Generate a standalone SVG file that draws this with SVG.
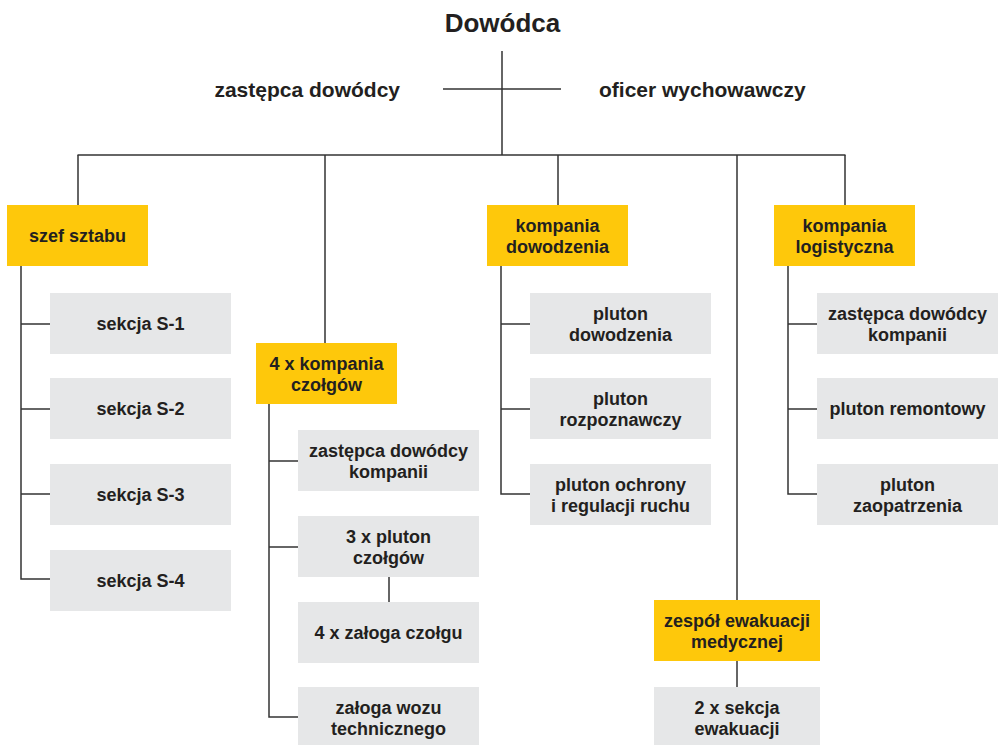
<svg xmlns="http://www.w3.org/2000/svg" width="998" height="745" viewBox="0 0 998 745">
  <style>
    .bg { fill: #ffffff; }
    .unit { fill: #fec80b; }
    .sub { fill: #e6e7e8; }
    .wire { stroke: #333333; stroke-width: 1.5; fill: none; }
    text { font-family: "Liberation Sans", Arial, Helvetica, sans-serif; font-weight: bold; fill: #231f20; text-anchor: middle; }
    .lbl { font-size: 18px; }
    .head { font-size: 21px; }
    .title { font-size: 26px; }
  </style>
  <rect class="bg" x="0" y="0" width="998" height="745"/>

  <!-- connectors -->
  <g id="connectors" class="wire">
    <line x1="502" y1="51" x2="502" y2="155"/>
    <line x1="443" y1="89" x2="561" y2="89"/>
    <line x1="77.5" y1="155" x2="845.5" y2="155"/>
    <line x1="78" y1="155" x2="78" y2="205"/>
    <line x1="325" y1="155" x2="325" y2="343"/>
    <line x1="558" y1="155" x2="558" y2="205"/>
    <line x1="737" y1="155" x2="737" y2="600"/>
    <line x1="845" y1="155" x2="845" y2="205"/>
    <!-- szef sztabu branch -->
    <polyline points="21,266 21,579 50,579"/>
    <line x1="21" y1="324" x2="50" y2="324"/>
    <line x1="21" y1="409" x2="50" y2="409"/>
    <line x1="21" y1="494" x2="50" y2="494"/>
    <!-- kompania czołgów branch -->
    <polyline points="269,404 269,717 298,717"/>
    <line x1="269" y1="461" x2="298" y2="461"/>
    <line x1="269" y1="547" x2="298" y2="547"/>
    <line x1="389" y1="577" x2="389" y2="602"/>
    <!-- kompania dowodzenia branch -->
    <polyline points="501,266 501,494 530,494"/>
    <line x1="501" y1="324" x2="530" y2="324"/>
    <line x1="501" y1="409" x2="530" y2="409"/>
    <!-- kompania logistyczna branch -->
    <polyline points="788,266 788,494 817,494"/>
    <line x1="788" y1="324" x2="817" y2="324"/>
    <line x1="788" y1="409" x2="817" y2="409"/>
    <!-- zespół ewakuacji -->
    <line x1="737" y1="661" x2="737" y2="687"/>
  </g>

  <!-- command level -->
  <g id="dowodca">
    <text class="title" x="502.5" y="32">Dowódca</text>
  </g>
  <g id="zastepca-dowodcy">
    <text class="head" x="400" y="97" style="text-anchor:end">zastępca dowódcy</text>
  </g>
  <g id="oficer-wychowawczy">
    <text class="head" x="599" y="97" style="text-anchor:start">oficer wychowawczy</text>
  </g>

  <!-- szef sztabu -->
  <g id="szef-sztabu">
    <rect class="unit" x="7" y="205" width="141" height="61"/>
    <text class="lbl" x="77.5" y="241.8">szef sztabu</text>
  </g>
  <g id="sekcja-s1">
    <rect class="sub" x="50" y="293" width="181" height="61"/>
    <text class="lbl" x="140.5" y="329.8">sekcja S-1</text>
  </g>
  <g id="sekcja-s2">
    <rect class="sub" x="50" y="378" width="181" height="61"/>
    <text class="lbl" x="140.5" y="414.8">sekcja S-2</text>
  </g>
  <g id="sekcja-s3">
    <rect class="sub" x="50" y="464" width="181" height="61"/>
    <text class="lbl" x="140.5" y="500.8">sekcja S-3</text>
  </g>
  <g id="sekcja-s4">
    <rect class="sub" x="50" y="550" width="181" height="61"/>
    <text class="lbl" x="140.5" y="586.8">sekcja S-4</text>
  </g>

  <!-- kompania czołgów -->
  <g id="kompania-czolgow">
    <rect class="unit" x="256" y="343" width="141" height="61"/>
    <text class="lbl" x="326.5" y="370">4 x kompania</text>
    <text class="lbl" x="326.5" y="391">czołgów</text>
  </g>
  <g id="kc-zastepca">
    <rect class="sub" x="298" y="430" width="181" height="61"/>
    <text class="lbl" x="388.5" y="457">zastępca dowódcy</text>
    <text class="lbl" x="388.5" y="478">kompanii</text>
  </g>
  <g id="kc-pluton">
    <rect class="sub" x="298" y="516" width="181" height="61"/>
    <text class="lbl" x="388.5" y="543">3 x pluton</text>
    <text class="lbl" x="388.5" y="564">czołgów</text>
  </g>
  <g id="kc-zaloga">
    <rect class="sub" x="298" y="602" width="181" height="61"/>
    <text class="lbl" x="388.5" y="638.8">4 x załoga czołgu</text>
  </g>
  <g id="kc-woz">
    <rect class="sub" x="298" y="687" width="181" height="61"/>
    <text class="lbl" x="388.5" y="714">załoga wozu</text>
    <text class="lbl" x="388.5" y="735">technicznego</text>
  </g>

  <!-- kompania dowodzenia -->
  <g id="kompania-dowodzenia">
    <rect class="unit" x="487" y="205" width="141" height="61"/>
    <text class="lbl" x="557.5" y="232">kompania</text>
    <text class="lbl" x="557.5" y="253">dowodzenia</text>
  </g>
  <g id="kd-pluton-dowodzenia">
    <rect class="sub" x="530" y="293" width="181" height="61"/>
    <text class="lbl" x="620.5" y="320">pluton</text>
    <text class="lbl" x="620.5" y="341">dowodzenia</text>
  </g>
  <g id="kd-pluton-rozpoznawczy">
    <rect class="sub" x="530" y="378" width="181" height="61"/>
    <text class="lbl" x="620.5" y="405">pluton</text>
    <text class="lbl" x="620.5" y="426">rozpoznawczy</text>
  </g>
  <g id="kd-pluton-ochrony">
    <rect class="sub" x="530" y="464" width="181" height="61"/>
    <text class="lbl" x="620.5" y="491">pluton ochrony</text>
    <text class="lbl" x="620.5" y="512">i regulacji ruchu</text>
  </g>

  <!-- zespół ewakuacji medycznej -->
  <g id="zespol-ewakuacji">
    <rect class="unit" x="654" y="600" width="166" height="61"/>
    <text class="lbl" x="737" y="627">zespół ewakuacji</text>
    <text class="lbl" x="737" y="648">medycznej</text>
  </g>
  <g id="sekcja-ewakuacji">
    <rect class="sub" x="654" y="687" width="166" height="61"/>
    <text class="lbl" x="737" y="714">2 x sekcja</text>
    <text class="lbl" x="737" y="735">ewakuacji</text>
  </g>

  <!-- kompania logistyczna -->
  <g id="kompania-logistyczna">
    <rect class="unit" x="774" y="205" width="141" height="61"/>
    <text class="lbl" x="844.5" y="232">kompania</text>
    <text class="lbl" x="844.5" y="253">logistyczna</text>
  </g>
  <g id="kl-zastepca">
    <rect class="sub" x="817" y="293" width="181" height="61"/>
    <text class="lbl" x="907.5" y="320">zastępca dowódcy</text>
    <text class="lbl" x="907.5" y="341">kompanii</text>
  </g>
  <g id="kl-pluton-remontowy">
    <rect class="sub" x="817" y="378" width="181" height="61"/>
    <text class="lbl" x="907.5" y="414.8">pluton remontowy</text>
  </g>
  <g id="kl-pluton-zaopatrzenia">
    <rect class="sub" x="817" y="464" width="181" height="61"/>
    <text class="lbl" x="907.5" y="491">pluton</text>
    <text class="lbl" x="907.5" y="512">zaopatrzenia</text>
  </g>
</svg>
